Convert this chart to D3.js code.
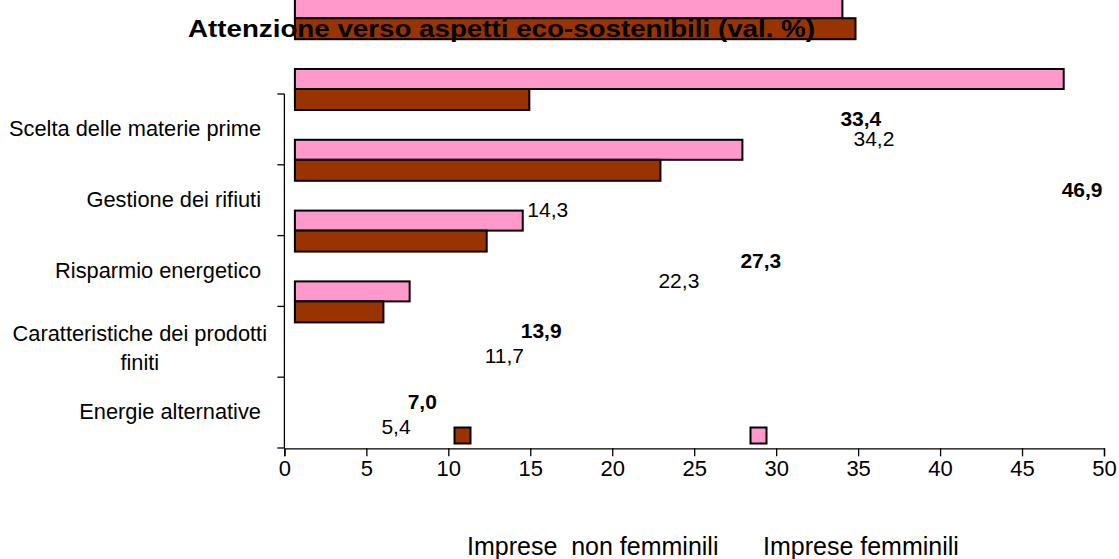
<!DOCTYPE html>
<html>
<head>
<meta charset="utf-8">
<script src="https://cdn.jsdelivr.net/npm/d3@7"></script>
<style>
  html, body { margin: 0; padding: 0; background: #fff; }
  svg { display: block; font-family: "Liberation Sans", Arial, sans-serif; }
  text { white-space: pre; }
</style>
</head>
<body>
<svg id="chart" width="1119" height="559"></svg>
<script>
// ---- data ----
const categories = [
  "Scelta delle materie prime",
  "Gestione dei rifiuti",
  "Risparmio energetico",
  "Caratteristiche dei prodotti finiti",
  "Energie alternative"
];
const categoryLines = [
  ["Scelta delle materie prime"],
  ["Gestione dei rifiuti"],
  ["Risparmio energetico"],
  ["Caratteristiche dei prodotti", "finiti"],
  ["Energie alternative"]
];
const femminili = [33.4, 46.9, 27.3, 13.9, 7.0];
const nonFemminili = [34.2, 14.3, 22.3, 11.7, 5.4];
const seriesNames = ["Imprese  non femminili", "Imprese femminili"];
const xTicks = [0, 5, 10, 15, 20, 25, 30, 35, 40, 45, 50];
const titleText = "Attenzione verso aspetti eco-sostenibili (val. %)";

// ---- layout / style ----
const PINK = "#FF99CC", BROWN = "#993300";
const svg = d3.select("#chart");
const x = d3.scaleLinear().domain([0, 50]).range([284.4, 1104]);
const y = d3.scaleBand().domain(categories).range([94, 448]).paddingInner(0).paddingOuter(0);
const fmt = v => d3.format(".1f")(v).replace(".", ",");

// bars (shifted as in the original rendering)
const barShiftX = 10.5, barShiftY = -95.8;
const bars = svg.append("g").attr("transform", `translate(${barShiftX},${barShiftY})`);
categories.forEach((c, i) => {
  bars.append("rect")
    .attr("x", x(0)).attr("y", y(c))
    .attr("width", x(femminili[i]) - x(0)).attr("height", 20)
    .attr("fill", PINK).attr("stroke", "#000").attr("stroke-width", 2);
  bars.append("rect")
    .attr("x", x(0)).attr("y", y(c) + 20)
    .attr("width", x(nonFemminili[i]) - x(0)).attr("height", 21)
    .attr("fill", BROWN).attr("stroke", "#000").attr("stroke-width", 2);
});

// x axis
const xAxis = svg.append("g").attr("transform", `translate(0,${y.range()[1] + 0.3})`)
  .call(d3.axisBottom(x).tickValues(xTicks).tickSize(8).tickFormat(d => d));
xAxis.select(".domain").attr("stroke", "#000").attr("stroke-width", 1.3);
xAxis.selectAll(".tick line").attr("stroke", "#000").attr("stroke-width", 1.3);
xAxis.selectAll(".tick text").attr("font-size", 22).attr("fill", "#000")
  .attr("font-family", "Liberation Sans, Arial, sans-serif").attr("y", 28).attr("dy", null);

// y axis (boundary ticks)
const yBounds = categories.map(c => y(c)).concat([y.range()[1]]);
const yAx = svg.append("g");
yAx.append("line").attr("x1", x(0)).attr("x2", x(0))
  .attr("y1", yBounds[0]).attr("y2", yBounds[yBounds.length - 1])
  .attr("stroke", "#000").attr("stroke-width", 1.3);
yAx.selectAll("line.tk").data(yBounds).join("line").attr("class", "tk")
  .attr("x1", x(0) - 7).attr("x2", x(0)).attr("y1", d => d).attr("y2", d => d)
  .attr("stroke", "#000").attr("stroke-width", 1.3);

// category labels
const labelRight = 267;
categoryLines.forEach((lines, i) => {
  const c = categories[i];
  const center = y(c) + y.bandwidth() / 2;
  const lh = 28.5;
  const first = center + 6.5 - (lines.length - 1) * lh / 2 + (lines.length > 1 ? 7 : 0);
  const g = svg.append("g");
  const ts = lines.map((ln, k) => g.append("text")
    .attr("font-size", 21.8).attr("fill", "#000")
    .attr("y", first + k * lh).text(ln));
  const widths = ts.map(t => t.node().getComputedTextLength());
  const maxW = d3.max(widths);
  if (lines.length === 1) {
    ts[0].attr("x", labelRight - 6 - widths[0]);
  } else {
    ts.forEach((t, k) => t.attr("x", labelRight - maxW / 2 - widths[k] / 2));
  }
});

// data labels
categories.forEach((c, i) => {
  svg.append("text").attr("x", x(femminili[i]) + 8.5).attr("y", y(c) + 32)
    .attr("font-size", 21).attr("font-weight", "bold").attr("fill", "#000").text(fmt(femminili[i]));
  svg.append("text").attr("x", x(nonFemminili[i]) + 8.5).attr("y", y(c) + (i < 3 ? 52 : 57))
    .attr("font-size", 21).attr("fill", "#000").text(fmt(nonFemminili[i]));
});

// legend
const legendKeys = [
  { fill: BROWN, x: 454.5, tx: 467, name: seriesNames[0] },
  { fill: PINK, x: 750.5, tx: 763, name: seriesNames[1] }
];
legendKeys.forEach(k => {
  svg.append("rect").attr("x", k.x).attr("y", 427.5).attr("width", 16).attr("height", 16)
    .attr("fill", k.fill).attr("stroke", "#000").attr("stroke-width", 2);
  svg.append("text").attr("x", k.tx).attr("y", 555).attr("font-size", 25)
    .attr("fill", "#000").text(k.name);
});

// title (drawn on top, as in the original)
svg.append("text").attr("x", 188).attr("y", 37).attr("font-size", 24)
  .attr("font-weight", "bold").attr("fill", "#000").text(titleText)
  .attr("textLength", 627).attr("lengthAdjust", "spacingAndGlyphs");
</script>
</body>
</html>
